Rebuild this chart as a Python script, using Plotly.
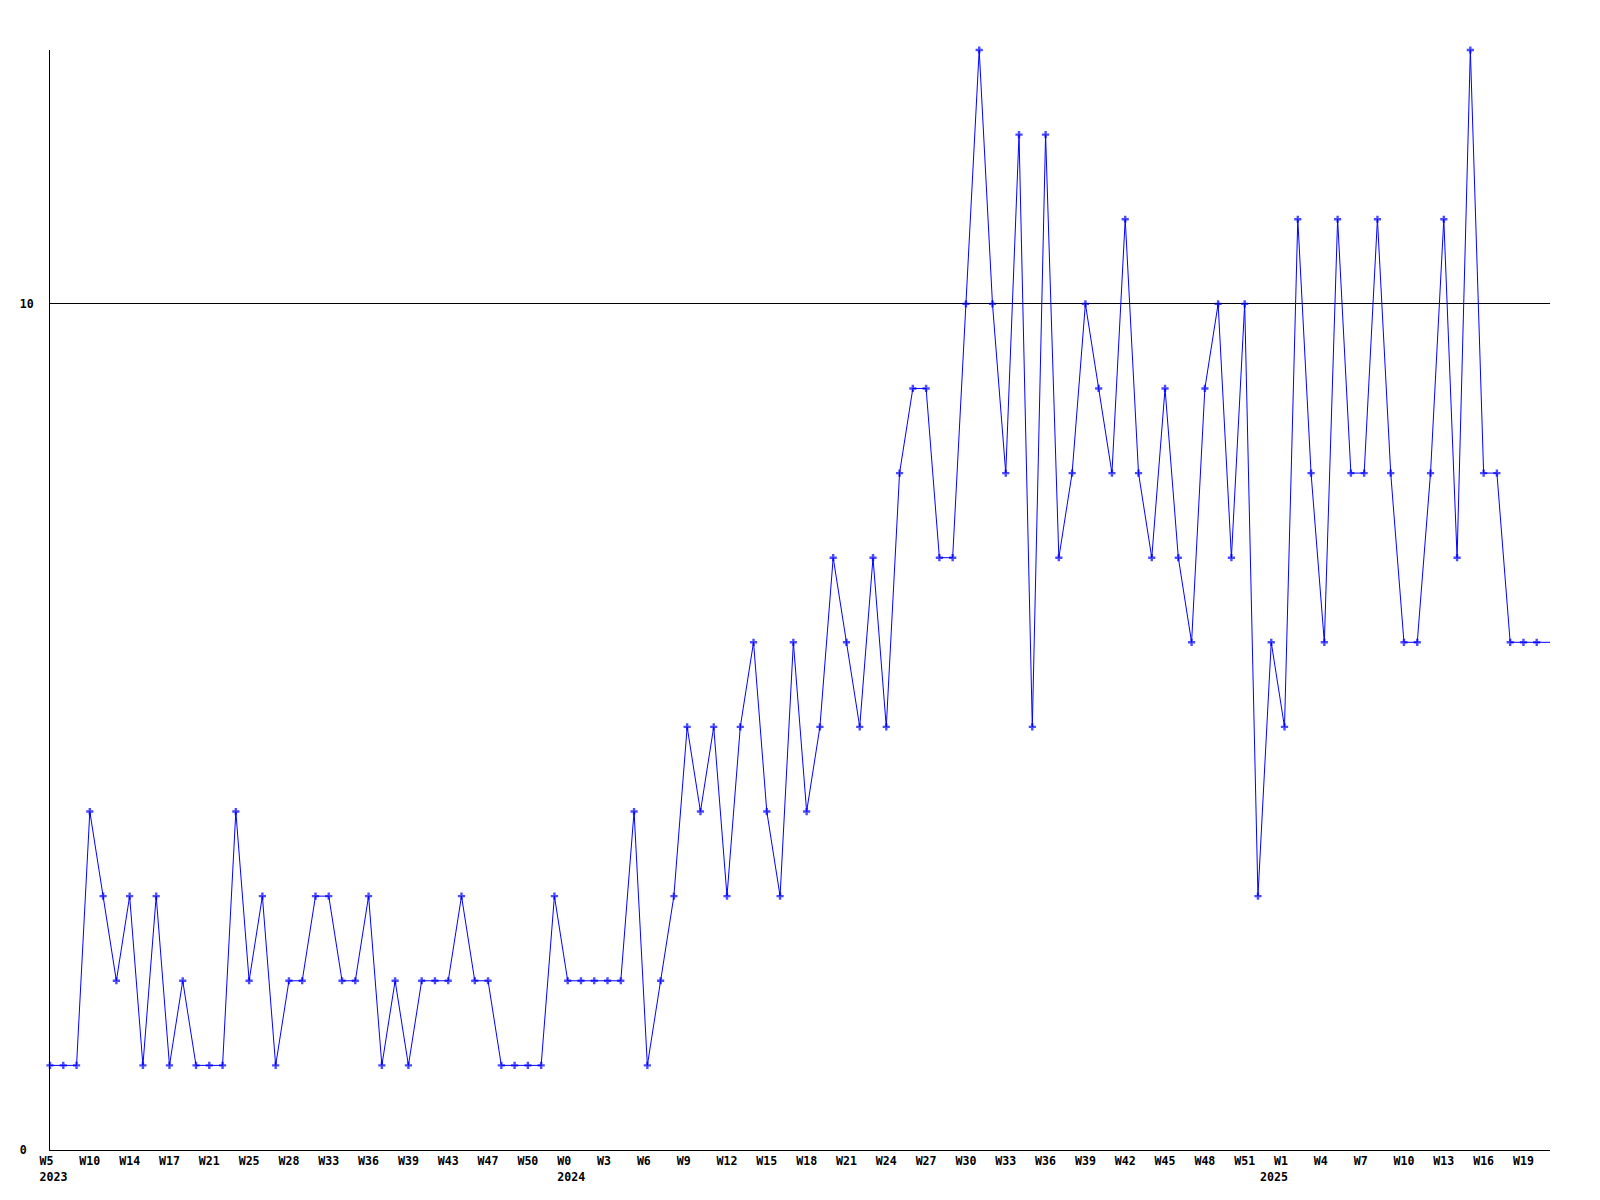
import plotly.graph_objects as go

# weekly counts, one per week point (left to right)
counts = [
    1, 1, 1, 4, 3, 2, 3, 1, 3, 1,
    2, 1, 1, 1, 4, 2, 3, 1, 2, 2,
    3, 3, 2, 2, 3, 1, 2, 1, 2, 2,
    2, 3, 2, 2, 1, 1, 1, 1, 3, 2,
    2, 2, 2, 2, 4, 1, 2, 3, 5, 4,
    5, 3, 5, 6, 4, 3, 6, 4, 5, 7,
    6, 5, 7, 5, 8, 9, 9, 7, 7, 10,
    13, 10, 8, 12, 5, 12, 7, 8, 10, 9,
    8, 11, 8, 7, 9, 7, 6, 9, 10, 7,
    10, 3, 6, 5, 11, 8, 6, 11, 8, 8,
    11, 8, 6, 6, 8, 11, 7, 13, 8, 8,
    6, 6, 6, 6,
]

# x tick labels, one every third point
tick_labels = [
    "W5", "W10", "W14", "W17", "W21", "W25", "W28", "W33", "W36", "W39",
    "W43", "W47", "W50", "W0", "W3", "W6", "W9", "W12", "W15", "W18",
    "W21", "W24", "W27", "W30", "W33", "W36", "W39", "W42", "W45", "W48",
    "W51", "W1", "W4", "W7", "W10", "W13", "W16", "W19",
]
year_labels = ["2023", "2024", "2025"]

y_ticks = [0, 10]
y_tick_labels = ["0", "10"]

n = len(counts)
x = list(range(n))
tick_step = 3
tick_vals = [i * tick_step for i in range(len(tick_labels))]

NB = "\u00a0"
def pad_week(s):
    return s + NB if len(s) == 2 else s

tick_text = [pad_week(s) for s in tick_labels]

# year ticks: first tick and wherever week number drops
year_tick_vals = [tick_vals[0]]
for k in range(1, len(tick_labels)):
    if int(tick_labels[k][1:]) < int(tick_labels[k - 1][1:]):
        year_tick_vals.append(tick_vals[k])
year_pads = [NB + year_labels[0], NB + year_labels[1], year_labels[2] + NB * 3]

font = dict(family="DejaVu Sans Mono", size=11.6, color="black", weight="bold")

sizes = [6] * (n - 1) + [0]

fig = go.Figure()
fig.add_trace(go.Scatter(
    x=x, y=counts, mode="lines+markers",
    line=dict(color="#0000ff", width=1),
    marker=dict(symbol="cross", size=sizes, color="#0000ff", line=dict(width=0)),
    cliponaxis=False, hoverinfo="skip", showlegend=False,
))
# empty trace so the year-label axis gets drawn
fig.add_trace(go.Scatter(
    x=[], y=[], xaxis="x2", yaxis="y", mode="markers",
    hoverinfo="skip", showlegend=False,
))

fig.update_layout(
    width=1600, height=1200,
    margin=dict(l=42, r=58, t=42, b=58),
    paper_bgcolor="white", plot_bgcolor="white",
    showlegend=False,
    xaxis=dict(
        range=[0, n - 1], showgrid=False, zeroline=False, automargin=False,
        showline=True, linecolor="black", linewidth=1,
        tickmode="array", tickvals=tick_vals, ticktext=tick_text,
        ticks="", tickfont=font, tickangle=0, ticklabelstandoff=0,
    ),
    xaxis2=dict(
        range=[0, n - 1], overlaying="x", anchor="y", side="bottom",
        showgrid=False, zeroline=False, showline=False, automargin=False,
        tickmode="array", tickvals=year_tick_vals, ticktext=year_pads,
        ticks="", tickfont=font, tickangle=0, ticklabelstandoff=18,
    ),
    yaxis=dict(
        range=[0, 13], showgrid=True, gridcolor="black", gridwidth=1,
        zeroline=False, showline=True, linecolor="black", linewidth=1,
        automargin=False,
        tickmode="array", tickvals=y_ticks,
        ticktext=[s + NB * (2 - len(s)) for s in y_tick_labels],
        ticks="", tickfont=font, ticklabelstandoff=13,
    ),
)

fig.write_html("out.html")
